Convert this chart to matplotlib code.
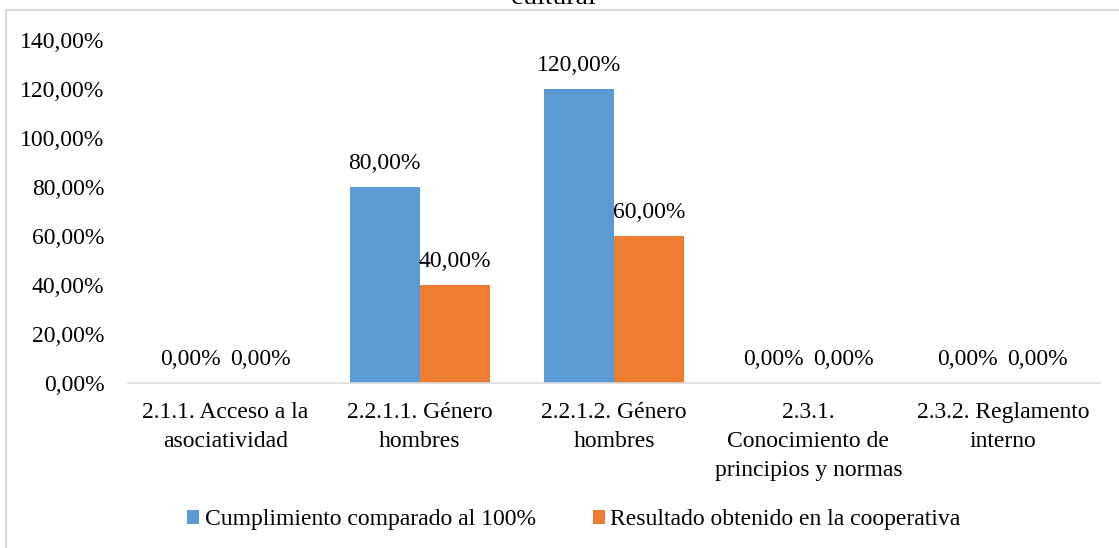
import matplotlib.pyplot as plt
import numpy as np
from matplotlib.lines import Line2D

plt.rcParams['font.family'] = ['Liberation Serif', 'DejaVu Serif']

categories = [
    "2.1.1. Acceso a la\nasociatividad",
    "2.2.1.1. Género\nhombres",
    "2.2.1.2. Género\nhombres",
    "2.3.1.\nConocimiento de\nprincipios y normas",
    "2.3.2. Reglamento\ninterno",
]
cumplimiento = [0.0, 80.0, 120.0, 0.0, 0.0]
resultado = [0.0, 40.0, 60.0, 0.0, 0.0]
series_names = ["Cumplimiento comparado al 100%", "Resultado obtenido en la cooperativa"]
yticks = [0, 20, 40, 60, 80, 100, 120, 140]

W, H = 1119, 548
FS = 17
fig = plt.figure(figsize=(W / 100, H / 100), dpi=100)
ax = fig.add_axes([128 / W, (H - 383) / H, (1100 - 128) / W, (383 - 40) / H])

x = np.arange(len(categories))
bw = 0.36
blue, orange = "#5B9BD5", "#ED7D31"
b1 = ax.bar(x - bw / 2, cumplimiento, bw, color=blue, label=series_names[0])
b2 = ax.bar(x + bw / 2, resultado, bw, color=orange, label=series_names[1])

def fmt(v):
    return f"{v:.2f}".replace(".", ",") + "%"

for bars, vals in ((b1, cumplimiento), (b2, resultado)):
    for r, v in zip(bars, vals):
        ax.annotate(fmt(v), (r.get_x() + r.get_width() / 2, v),
                    xytext=(0, 17), textcoords="offset points",
                    ha="center", va="center", fontsize=FS, color="#000000")

ax.set_xlim(-0.5, len(categories) - 0.5)
ax.set_ylim(0, 140)
ax.set_yticks(yticks)
ax.set_yticklabels([fmt(v) for v in yticks], fontsize=FS)
ax.set_xticks(x)
ax.set_xticklabels(categories, fontsize=FS, linespacing=1.5, va="top")
ax.tick_params(axis="both", length=0)
ax.tick_params(axis="y", pad=17)
ax.tick_params(axis="x", pad=14)
for s in ("top", "right", "left"):
    ax.spines[s].set_visible(False)
ax.spines["bottom"].set_color("#d9d9d9")
ax.spines["bottom"].set_linewidth(1.2)

fig.legend(loc="center", bbox_to_anchor=(574 / W, (H - 520) / H), ncol=2,
           frameon=False, fontsize=FS, handlelength=0.5, handleheight=0.5,
           handletextpad=0.25, columnspacing=2.4)

# chart frame
fig.add_artist(Line2D([6 / W, 6 / W], [0, (H - 10) / H], color="#d9d9d9", lw=1.5))
fig.add_artist(Line2D([6 / W, 1], [(H - 10) / H, (H - 10) / H], color="#d9d9d9", lw=1.5))

fig.text(553 / W, (H - 4) / H, "cultural", ha="center", va="baseline", fontsize=20)

fig.savefig("out.png", dpi=100)
